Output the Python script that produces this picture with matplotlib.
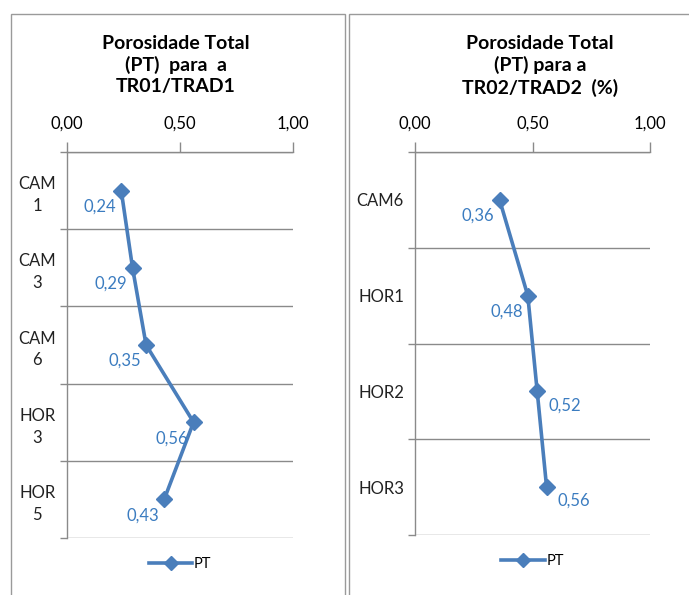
import matplotlib
matplotlib.use("Agg")
import matplotlib.pyplot as plt
from matplotlib.patches import Rectangle
import numpy as np

plt.rcParams['font.family'] = ['Lato', 'DejaVu Sans']

# data
cats_1 = ["CAM\n1", "CAM\n3", "CAM\n6", "HOR\n3", "HOR\n5"]
pt_1 = [0.24, 0.29, 0.35, 0.56, 0.43]
title_1 = "Porosidade Total\n(PT)  para  a\nTR01/TRAD1"

cats_2 = ["CAM6", "HOR1", "HOR2", "HOR3"]
pt_2 = [0.36, 0.48, 0.52, 0.56]
title_2 = "Porosidade Total\n(PT) para a\nTR02/TRAD2  (%)"

xticks = [0.0, 0.5, 1.0]

LINE = '#4a7ebb'
LABEL = '#3b7cc0'
GRID = '#8a8a8a'

fig = plt.figure(figsize=(6.89, 5.95), dpi=100)

# panel borders (chart areas)
fig.patches.append(Rectangle((11 / 689, -0.05), 334 / 689, 1.05 - 14.5 / 595,
                             transform=fig.transFigure, fill=False,
                             edgecolor='#9a9a9a', linewidth=1.0))
fig.patches.append(Rectangle((349 / 689, -0.05), 0.6, 1.05 - 14.5 / 595,
                             transform=fig.transFigure, fill=False,
                             edgecolor='#9a9a9a', linewidth=1.0))


def draw_panel(rect, cats, vals, title, title_x, sides, lab_pad, center_labels):
    ax = fig.add_axes(rect)
    n = len(cats)
    y = np.arange(n)
    ax.plot(vals, y, color=LINE, linewidth=2.6, marker='D', markersize=8,
            label='PT', zorder=3)
    for v, yy, s in zip(vals, y, sides):
        txt = f"{v:.2f}".replace('.', ',')
        if s == 'left':
            ax.annotate(txt, (v, yy), xytext=(-5, -16), textcoords='offset pixels',
                        ha='right', va='center', color=LABEL, fontsize=12)
        else:
            ax.annotate(txt, (v, yy), xytext=(11, -14), textcoords='offset pixels',
                        ha='left', va='center', color=LABEL, fontsize=12)

    ax.set_xlim(0, 1)
    ax.set_ylim(n - 0.5, -0.5)
    ax.xaxis.tick_top()
    ax.set_xticks(xticks)
    ax.set_xticklabels([f"{t:.2f}".replace('.', ',') for t in xticks], fontsize=12)
    ax.tick_params(axis='x', direction='out', length=7, color=GRID, width=1, pad=8)

    ax.set_yticks(y)
    ax.set_yticklabels(cats, fontsize=12)
    ax.set_yticks(np.arange(n + 1) - 0.5, minor=True)
    ax.tick_params(axis='y', which='major', length=0, pad=lab_pad)
    ax.tick_params(axis='y', which='minor', length=5, color=GRID, width=1)
    ax.grid(True, axis='y', which='minor', color=GRID, linewidth=1)
    for lab in ax.get_yticklabels():
        if center_labels:
            lab.set_multialignment('center')
            lab.set_horizontalalignment('center')
            lab.set_linespacing(1.45)
        lab.set_color('#222222')

    for side in ['right', 'bottom']:
        ax.spines[side].set_visible(False)
    for side in ['left', 'top']:
        ax.spines[side].set_color(GRID)
        ax.spines[side].set_linewidth(1)

    fig.text(title_x, 1 - 35 / 595, title, ha='center', va='top', fontsize=14,
             fontweight='bold', linespacing=1.28)

    ax.legend(loc='upper center', bbox_to_anchor=(0.5, -0.015), frameon=False,
              fontsize=10.5, handlelength=3.0, handletextpad=0.1, markerscale=0.85)
    return ax


draw_panel([67 / 689, 57 / 595, 226 / 689, 386 / 595], cats_1, pt_1, title_1,
           176 / 689, ['left'] * 5, 21.5, True)
draw_panel([415 / 689, 60 / 595, 235 / 689, 383 / 595], cats_2, pt_2, title_2,
           540 / 689, ['left', 'left', 'right', 'right'], 8, False)

fig.savefig("out.png", dpi=100)
